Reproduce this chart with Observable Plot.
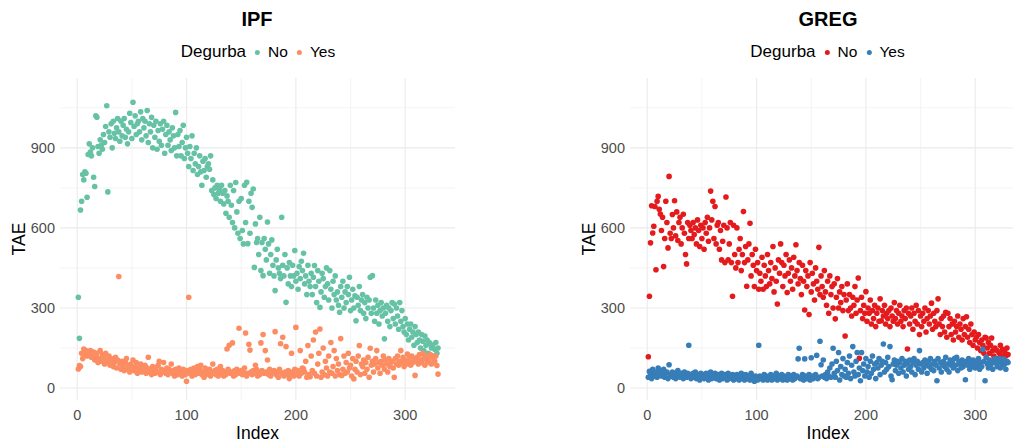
<!DOCTYPE html>
<html>
<head>
<meta charset="utf-8">
<script src="https://cdn.jsdelivr.net/npm/d3@7"></script>
<script src="https://cdn.jsdelivr.net/npm/@observablehq/plot@0.6"></script>
<style>
  body { margin: 0; background: #ffffff; font-family: "Liberation Sans", Arial, Helvetica, sans-serif; }
  #root { position: relative; width: 1014px; height: 443px; overflow: hidden; background: #fff; }
  .abs { position: absolute; white-space: nowrap; }
  .title { font-weight: bold; font-size: 20px; color: #000; transform: translate(-50%, -50%); }
  .legend { display: flex; align-items: center; color: #000; transform: translate(-50%, -50%); }
  .legend .lt { font-size: 17px; margin-right: 9px; }
  .legend .dot { display: inline-block; width: 5px; height: 5px; border-radius: 50%; margin-right: 8px; }
  .legend .lab { font-size: 15.5px; margin-right: 9px; }
  .axt { font-size: 17.5px; color: #000; transform: translate(-50%, -50%); }
  .axt.rot { transform: translate(-50%, -50%) rotate(-90deg); }
  .plot { position: absolute; top: 0; }
</style>
</head>
<body>
<div id="root"></div>
<script>
// ---------------- data ----------------
const xTicks = [0, 100, 200, 300];
const xMinor = [50, 150, 250];
const yTicks = [0, 300, 600, 900];
const yMinor = [150, 450, 750, 1050];
const degurba = ["No", "Yes"];
const panelTitles = ["IPF", "GREG"];

// IPF, Degurba = No (index 1..330)
const ipfNo = [
  340, 186, 667, 700, 800, 780, 810, 805, 715, 875,
  915, 884, 870, 900, 790, 755, 1020, 1015, 905, 880,
  930, 910, 895, 950, 920, 980, 1058, 735, 960, 940,
  990, 900, 1000, 955, 935, 975, 1010, 960, 925, 1000,
  945, 985, 1010, 940, 970, 915, 960, 1030, 995, 935,
  1071, 980, 1020, 950, 990, 1000, 960, 1035, 930, 1010,
  975, 1000, 945, 1040, 920, 990, 960, 1015, 900, 985,
  940, 1000, 895, 965, 925, 990, 910, 970, 1000, 880,
  950, 985, 910, 960, 930, 890, 975, 945, 900, 1033,
  870, 950, 905, 965, 870, 920, 985, 860, 900, 940,
  880, 830, 905, 860, 945, 815, 880, 840, 900, 800,
  830, 870, 810, 760, 850, 815, 860, 790, 830, 840,
  820, 870, 740, 780, 725, 750, 710, 760, 730, 745,
  700, 760, 730, 690, 740, 655, 720, 700, 640, 760,
  685, 620, 740, 600, 770, 660, 580, 700, 560, 710,
  590, 540, 760, 620, 771, 541, 700, 580, 730, 677,
  746, 452, 615, 545, 560, 500, 640, 440, 545, 421,
  560, 520, 480, 622, 540, 430, 500, 555, 460, 420,
  365, 480, 520, 450, 430, 410, 640, 460, 420, 500,
  321, 450, 390, 470, 420, 380, 460, 420, 515, 400,
  430, 370, 455, 410, 475, 440, 505, 390, 420, 350,
  460, 400, 380, 430, 350, 415, 459, 380, 320, 440,
  400, 302, 360, 430, 410, 340, 380, 450, 390, 330,
  440, 370, 300, 400, 350, 420, 330, 360, 310, 284,
  380, 340, 400, 300, 360, 320, 380, 350, 415, 290,
  330, 370, 300, 345, 252, 340, 310, 380, 290, 330,
  350, 280, 320, 260, 340, 300, 330, 415, 280, 421,
  300, 250, 330, 280, 310, 240, 290, 320, 270, 300,
  184, 280, 310, 250, 300, 230, 290, 320, 260, 315,
  240, 300, 270, 220, 320, 250, 290, 230, 210, 260,
  200, 240, 180, 220, 240, 190, 210, 160, 230, 200,
  170, 210, 180, 150, 200, 175, 140, 195, 160, 180,
  130, 170, 165, 150, 160, 120, 145, 170, 130, 150
];

// IPF, Degurba = Yes
const ipfYes = [
  71, 84, 80, 130, 110, 146, 125, 140, 120, 135,
  130, 140, 115, 125, 135, 105, 120, 130, 95, 110,
  140, 100, 125, 115, 90, 130, 105, 95, 120, 85,
  110, 100, 80, 95, 115, 75, 105, 418, 90, 70,
  100, 80, 65, 95, 110, 70, 85, 60, 90, 75,
  105, 65, 80, 95, 55, 75, 70, 90, 60, 80,
  65, 85, 55, 75, 115, 60, 70, 50, 80, 65,
  55, 75, 60, 85, 100, 50, 70, 60, 95, 65,
  55, 75, 50, 70, 60, 90, 55, 65, 45, 70,
  60, 50, 75, 55, 65, 45, 70, 60, 50, 25,
  65, 340, 55, 70, 45, 60, 75, 50, 65, 80,
  55, 70, 85, 50, 60, 40, 75, 55, 65, 50,
  70, 45, 60, 90, 55, 65, 50, 70, 45, 60,
  80, 55, 65, 45, 60, 50, 146, 70, 160, 55,
  60, 169, 45, 65, 50, 70, 60, 224, 55, 65,
  50, 60, 75, 206, 45, 55, 164, 142, 60, 50,
  65, 55, 85, 70, 45, 60, 50, 169, 65, 200,
  55, 140, 60, 105, 50, 70, 45, 55, 60, 65,
  211, 50, 60, 40, 70, 166, 55, 190, 45, 60,
  155, 50, 65, 35, 55, 130, 60, 45, 70, 227,
  50, 65, 45, 140, 55, 75, 71, 60, 100, 40,
  159, 50, 42, 120, 65, 180, 55, 210, 45, 90,
  130, 221, 40, 60, 150, 50, 100, 75, 45, 120,
  60, 170, 55, 80, 140, 45, 110, 65, 90, 50,
  185, 47, 70, 120, 55, 95, 60, 130, 75, 85,
  45, 110, 34, 70, 100, 60, 120, 159, 50, 90,
  80, 105, 55, 95, 70, 115, 40, 149, 85, 100,
  60, 90, 110, 140, 75, 95, 55, 100, 85, 120,
  70, 105, 90, 60, 110, 80, 95, 100, 75, 40,
  110, 90, 120, 85, 100, 140, 95, 115, 80, 105,
  90, 127, 100, 115, 85, 120, 95, 110, 47, 100,
  115, 90, 125, 105, 95, 130, 110, 85, 120, 100,
  110, 95, 125, 90, 115, 109, 100, 120, 84, 52
];

// GREG, Degurba = No
const gregNo = [
  117, 344, 544, 683, 581, 606, 680, 443, 700, 718,
  670, 652, 590, 640, 455, 560, 700, 620, 525, 793,
  580, 560, 650, 600, 702, 570, 660, 553, 620, 640,
  540, 600, 651, 580, 500, 465, 620, 560, 610, 590,
  560, 620, 575, 600, 540, 630, 590, 530, 610, 560,
  600, 520, 620, 580, 640, 550, 600, 738, 630, 700,
  560, 680, 540, 610, 620, 520, 590, 480, 550, 610,
  470, 716, 600, 480, 540, 620, 470, 344, 610, 500,
  450, 600, 470, 520, 560, 440, 500, 661, 470, 530,
  381, 480, 540, 617, 420, 500, 460, 380, 520, 440,
  470, 370, 430, 400, 490, 370, 460, 420, 380, 500,
  440, 390, 470, 410, 530, 360, 450, 400, 315, 480,
  430, 540, 470, 380, 460, 420, 500, 358, 430, 480,
  400, 450, 370, 490, 420, 537, 440, 390, 470, 410,
  350, 460, 400, 292, 440, 380, 420, 275, 470, 360,
  430, 390, 330, 450, 400, 370, 527, 350, 420, 380,
  340, 440, 360, 310, 400, 280, 420, 350, 380, 300,
  390, 259, 340, 410, 300, 360, 320, 380, 290, 350,
  195, 330, 390, 290, 350, 300, 270, 340, 310, 380,
  280, 330, 412, 111, 290, 340, 260, 310, 280, 361,
  250, 300, 280, 330, 240, 290, 260, 310, 230, 280,
  300, 250, 334, 252, 290, 270, 310, 240, 280, 260,
  290, 230, 300, 270, 250, 320, 260, 290, 240, 280,
  310, 250, 270, 230, 290, 260, 300, 146, 280, 240,
  270, 300, 220, 280, 250, 310, 240, 290, 200, 270,
  230, 280, 250, 300, 210, 260, 290, 240, 270, 318,
  220, 280, 250, 230, 290, 334, 240, 200, 260, 230,
  270, 210, 284, 190, 280, 230, 260, 200, 240, 180,
  250, 210, 230, 270, 190, 240, 220, 180, 260, 200,
  230, 267, 190, 220, 170, 240, 200, 160, 210, 180,
  190, 150, 200, 170, 140, 180, 160, 130, 190, 187,
  150, 170, 130, 160, 187, 140, 120, 150, 110, 140,
  105, 130, 160, 120, 145, 110, 135, 121, 150, 125
];

// GREG, Degurba = Yes
const gregYes = [
  40, 62, 55, 35, 70, 50, 45, 60, 40, 75,
  55, 65, 45, 50, 70, 40, 55, 60, 35, 87,
  50, 45, 60, 40, 55, 35, 50, 65, 45, 40,
  55, 50, 35, 60, 45, 40, 55, 160, 50, 35,
  45, 55, 40, 60, 35, 50, 45, 30, 55, 40,
  50, 35, 45, 55, 40, 30, 50, 60, 35, 45,
  40, 55, 35, 45, 50, 30, 40, 55, 35, 45,
  50, 40, 30, 55, 35, 45, 40, 50, 30, 45,
  35, 50, 40, 30, 45, 55, 35, 40, 30, 50,
  40, 35, 45, 30, 55, 40, 35, 25, 45, 40,
  30, 160, 45, 35, 40, 30, 50, 35, 45, 30,
  40, 35, 50, 30, 45, 40, 35, 55, 30, 45,
  40, 35, 50, 30, 45, 35, 40, 30, 50, 35,
  45, 40, 30, 50, 35, 40, 45, 109, 149, 35,
  40, 50, 30, 109, 45, 35, 40, 50, 30, 113,
  45, 35, 40, 50, 122, 35, 40, 175, 87, 45,
  105, 40, 50, 35, 60, 45, 75, 40, 90, 149,
  55, 40, 100, 65, 133, 30, 80, 50, 110, 45,
  70, 40, 95, 55, 120, 35, 85, 155, 60, 45,
  100, 133, 50, 75, 27, 133, 65, 90, 45, 110,
  60, 80, 40, 100, 55, 120, 70, 90, 35, 95,
  75, 110, 50, 85, 100, 165, 60, 95, 70, 115,
  80, 155, 45, 31, 90, 105, 65, 85, 100, 55,
  95, 75, 110, 60, 85, 100, 45, 90, 70, 105,
  80, 60, 95, 110, 50, 85, 100, 70, 140, 90,
  60, 95, 75, 105, 85, 55, 100, 80, 110, 70,
  90, 65, 100, 85, 27, 110, 75, 95, 60, 90,
  100, 80, 115, 70, 90, 60, 105, 85, 95, 75,
  110, 85, 115, 65, 100, 90, 75, 105, 80, 95,
  31, 100, 85, 110, 70, 95, 80, 105, 90, 75,
  100, 85, 110, 70, 95, 80, 145, 100, 27, 115,
  90, 75, 105, 85, 100, 70, 95, 110, 102, 80,
  95, 110, 75, 100, 85, 108, 90, 70, 100, 95
];

const ipfColors = ["#66c2a5", "#fc8d62"];
const gregColors = ["#e41a1c", "#377eb8"];

// ---------------- drawing ----------------
const FONT = '"Liberation Sans", Arial, Helvetica, sans-serif';
const root = document.getElementById("root");

function rows(noVals, yesVals) {
  const out = [];
  noVals.forEach((v, i) => out.push({ Index: i + 1, TAE: v, Degurba: degurba[0] }));
  yesVals.forEach((v, i) => out.push({ Index: i + 1, TAE: v, Degurba: degurba[1] }));
  return out;
}

function panel(cfg) {
  const data = rows(cfg.no, cfg.yes);
  const chart = Plot.plot({
    width: cfg.width,
    height: 443,
    marginLeft: cfg.marginLeft,
    marginRight: cfg.marginRight,
    marginTop: 78,
    marginBottom: 43,
    x: { domain: cfg.xDomain },
    y: { domain: [-47, 1160] },
    color: { domain: degurba, range: cfg.colors },
    style: { fontFamily: FONT, fontSize: "14.5px", color: "#4d4d4d", background: "transparent", overflow: "visible" },
    marks: [
      Plot.gridX(xMinor, { stroke: "#ececec", strokeOpacity: 1, strokeWidth: 0.6 }),
      Plot.gridY(yMinor, { stroke: "#ececec", strokeOpacity: 1, strokeWidth: 0.6 }),
      Plot.gridX(xTicks, { stroke: "#ebebeb", strokeOpacity: 1, strokeWidth: 1.1 }),
      Plot.gridY(yTicks, { stroke: "#ebebeb", strokeOpacity: 1, strokeWidth: 1.1 }),
      Plot.axisX(xTicks, { tickSize: 0, tickPadding: 9, label: null, fontSize: 14.5, fill: "#4d4d4d" }),
      Plot.axisY(yTicks, { tickSize: 0, tickPadding: 5.5, label: null, fontSize: 14.5, fill: "#4d4d4d" }),
      Plot.dot(data, { x: "Index", y: "TAE", fill: "Degurba", r: 2.8, stroke: "none" })
    ]
  });
  chart.classList.add("plot");
  chart.style.left = cfg.left + "px";
  root.appendChild(chart);

  // title
  const t = document.createElement("div");
  t.className = "abs title";
  t.style.left = cfg.cx + "px";
  t.style.top = "19px";
  t.textContent = cfg.title;
  root.appendChild(t);

  // legend
  const lg = document.createElement("div");
  lg.className = "abs legend";
  lg.style.left = cfg.lx + "px";
  lg.style.top = "52px";
  const lt = document.createElement("span");
  lt.className = "lt";
  lt.textContent = "Degurba";
  lg.appendChild(lt);
  degurba.forEach((d, i) => {
    const dot = document.createElement("span");
    dot.className = "dot";
    dot.style.background = cfg.colors[i];
    lg.appendChild(dot);
    const lab = document.createElement("span");
    lab.className = "lab";
    lab.textContent = d;
    if (i === degurba.length - 1) lab.style.marginRight = "0";
    lg.appendChild(lab);
  });
  root.appendChild(lg);

  // axis titles
  const xt = document.createElement("div");
  xt.className = "abs axt";
  xt.style.left = cfg.xlx + "px";
  xt.style.top = "433px";
  xt.textContent = "Index";
  root.appendChild(xt);

  const yt = document.createElement("div");
  yt.className = "abs axt rot";
  yt.style.left = cfg.ylx + "px";
  yt.style.top = "239px";
  yt.textContent = "TAE";
  root.appendChild(yt);
}

panel({
  title: panelTitles[0], no: ipfNo, yes: ipfYes, colors: ipfColors,
  left: 0, width: 507, marginLeft: 60, marginRight: 52, xDomain: [-15.3, 346],
  cx: 257, lx: 258, xlx: 257.5, ylx: 19
});
panel({
  title: panelTitles[1], no: gregNo, yes: gregYes, colors: gregColors,
  left: 507, width: 507, marginLeft: 123, marginRight: 1, xDomain: [-15.3, 335],
  cx: 828, lx: 827.5, xlx: 828, ylx: 589
});
</script>
</body>
</html>
